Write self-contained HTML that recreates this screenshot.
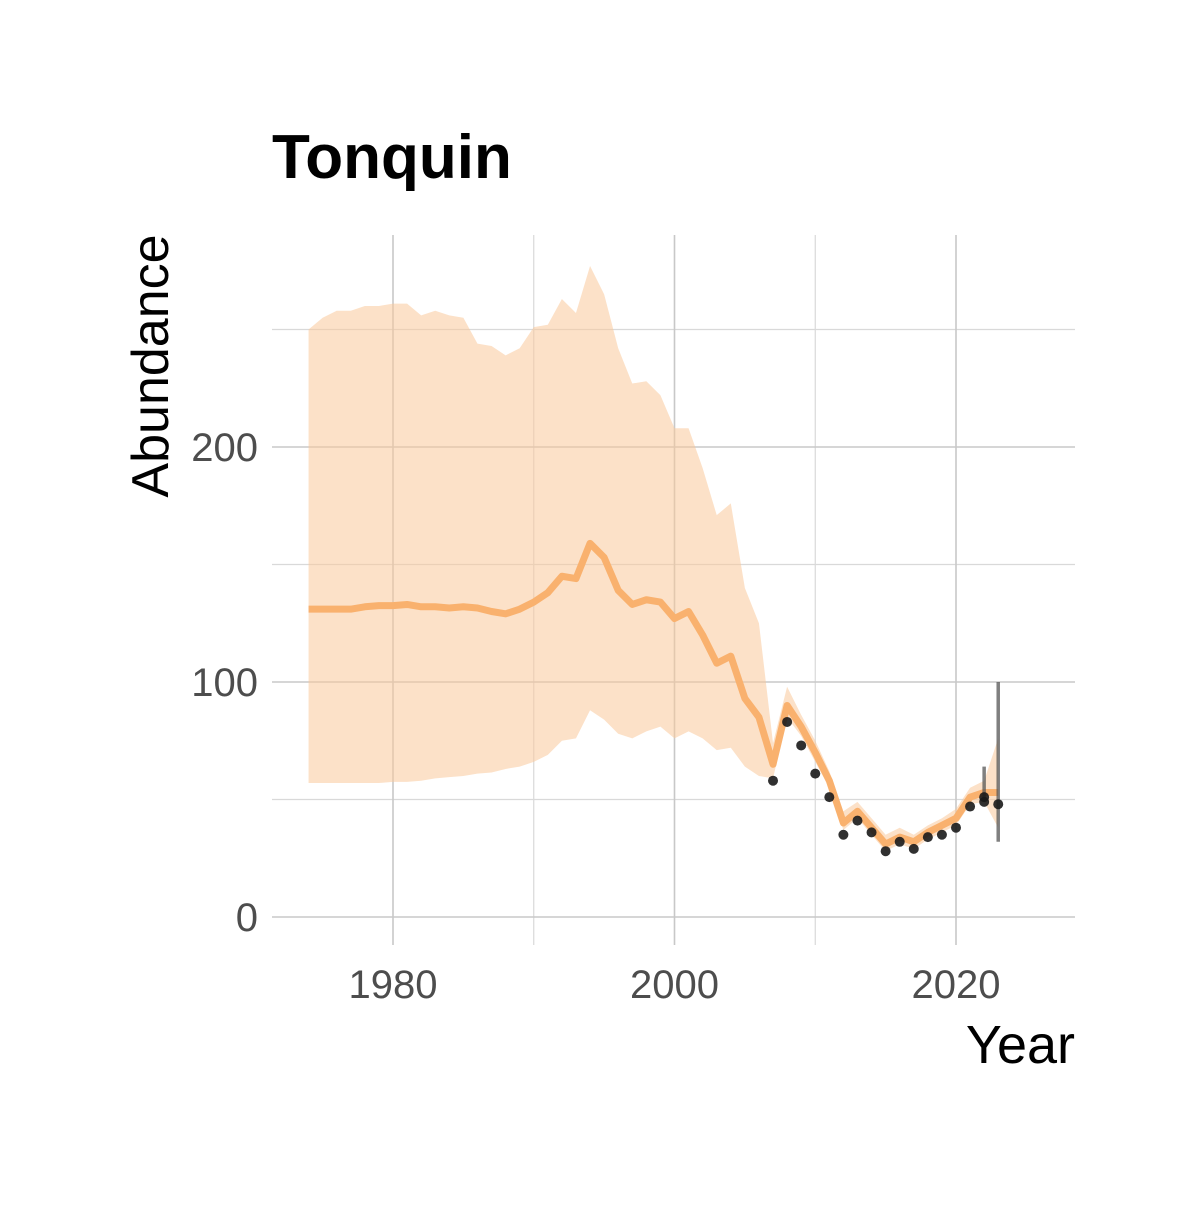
<!DOCTYPE html>
<html><head><meta charset="utf-8"><style>
body{margin:0;background:#fff}
svg text{font-family:"Liberation Sans Narrow","Liberation Sans",sans-serif}
</style></head><body>
<svg id="chart" width="1200" height="1200" viewBox="0 0 1200 1200" xmlns="http://www.w3.org/2000/svg">
<rect width="1200" height="1200" fill="#fff"/>
<g id="grid"></g>
<g id="band"></g>
<g id="line"></g>
<g id="err"></g>
<g id="pts"></g>
<g id="axes"></g>
<text x="272" y="178" font-size="62" font-weight="bold" fill="#000" style="font-family:'Liberation Sans',sans-serif">Tonquin</text>
<text transform="translate(168,366) rotate(-90)" text-anchor="middle" font-size="52" fill="#000">Abundance</text>
<text x="1075" y="1063" text-anchor="end" font-size="54" fill="#000">Year</text>
</svg>
<script>
const years=[1974,1975,1976,1977,1978,1979,1980,1981,1982,1983,1984,1985,1986,1987,1988,1989,1990,1991,1992,1993,1994,1995,1996,1997,1998,1999,2000,2001,2002,2003,2004,2005,2006,2007,2008,2009,2010,2011,2012,2013,2014,2015,2016,2017,2018,2019,2020,2021,2022,2023];
const est=[131,131,131,131,132,132.5,132.5,133,132,132,131.5,132,131.5,130,129,131,134,138,145,144,159,153,139,133,135,134,127,130,120,108,111,93,85,65,90,81,70,58,40,45,38,31,34,32,36,39,42,51,53,53];
const upper=[250,255,258,258,260,260,261,261,256,258,256,255,244,243,239,242,251,252,263,257,277,265,242,227,228,222,208,208,191,171,176,140,125,74,98,86,75,62,45,49,42,35,38,35,39,42,46,55,58,76];
const lower=[57,57,57,57,57,57,57.5,57.5,58,59,59.5,60,61,61.5,63,64,66,69,75,76,88,84,78,76,79,81,76,79,76,71,72,64,60,59,85,77,66,55,37,42,35,28,31,29,33,36,39,48,49,38];
const obsYears=[2007,2008,2009,2010,2011,2012,2013,2014,2015,2016,2017,2018,2019,2020,2021,2022,2022,2023];
const obsVals=[58,83,73,61,51,35,41,36,28,32,29,34,35,38,47,51,49,48];
const errYears=[2022,2023];
const errLo=[49,32];
const errHi=[64,100];
const xTicks=[1980,2000,2020];
const xMinor=[1990,2010];
const yTicks=[0,100,200];
const yMinor=[50,150,250];

const X=y=>393+(y-1980)*(956-393)/40;
const Y=v=>917-v*2.35;
const NS="http://www.w3.org/2000/svg";
function mk(parent,tag,attrs){const e=document.createElementNS(NS,tag);for(const k in attrs)e.setAttribute(k,attrs[k]);document.getElementById(parent).appendChild(e);return e;}
const L=272,R=1075,T=235,B=945;
yMinor.forEach(v=>{const e=mk('grid','line',{x1:L,x2:R,y1:Y(v),y2:Y(v),stroke:'#d9d9d9','stroke-width':1.2});

});
xMinor.forEach(v=>{const e=mk('grid','line',{x1:X(v),x2:X(v),y1:T,y2:B,stroke:'#d9d9d9','stroke-width':1.2});

});
yTicks.forEach(v=>{const e=mk('grid','line',{x1:L,x2:R,y1:Y(v),y2:Y(v),stroke:'#c8c8c8','stroke-width':1.6});


const t=mk('axes','text',{x:258,y:Y(v)+14,'text-anchor':'end','font-size':40,fill:'#4d4d4d'});t.textContent=v;

});
xTicks.forEach(v=>{const e=mk('grid','line',{x1:X(v),x2:X(v),y1:T,y2:B,stroke:'#c8c8c8','stroke-width':1.6});


const t=mk('axes','text',{x:X(v),y:998,'text-anchor':'middle','font-size':40,fill:'#4d4d4d'});t.textContent=v;

});
let d=years.map((y,i)=>(i?'L':'M')+X(y)+','+Y(upper[i])).join('');
for(let i=years.length-1;i>=0;i--)d+='L'+X(years[i])+','+Y(lower[i]);
const band=mk('band','path',{d:d+'Z',fill:'#f9c89a','fill-opacity':0.55});


const ln=mk('line','path',{d:years.map((y,i)=>(i?'L':'M')+X(y)+','+Y(est[i])).join(''),fill:'none',stroke:'#f9b16e','stroke-width':7,'stroke-linejoin':'round'});


errYears.forEach((y,i)=>{const e=mk('err','line',{x1:X(y),x2:X(y),y1:Y(errLo[i]),y2:Y(errHi[i]),stroke:'#555','stroke-opacity':0.75,'stroke-width':3.5});

});
obsYears.forEach((y,i)=>{const c=mk('pts','circle',{cx:X(y),cy:Y(obsVals[i]),r:5,fill:'#1a1a1a','fill-opacity':0.9});

});
</script>
</body></html>
